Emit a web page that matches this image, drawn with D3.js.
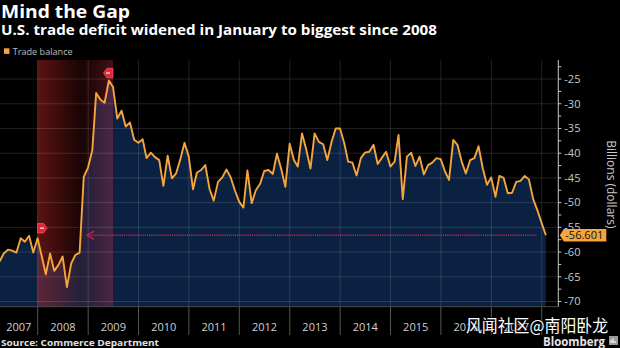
<!DOCTYPE html>
<html>
<head>
<meta charset="utf-8">
<script src="https://cdn.jsdelivr.net/npm/d3@7"></script>
<style>
html,body{margin:0;padding:0;background:#000;}
svg{display:block;}
</style>
</head>
<body>
<svg id="chart" width="620" height="348"></svg>
<script>
// ---------------- DATA ----------------
const firstMonth = "2007-03";          // first monthly observation
const tradeBalance = [
  // 2007 (Mar-Dec)
  -61.9, -60.3, -59.5, -59.7, -60.1, -57.2, -57.9, -56.7, -60.1, -57.2,
  // 2008
  -60.9, -64.5, -60.3, -63.8, -62.6, -60.9, -67.1, -62.3, -60.6, -60.1, -44.8, -42.9,
  // 2009
  -39.4, -27.8, -29.2, -29.8, -25.3, -26.6, -33.0, -31.4, -34.6, -33.8, -37.3, -37.9,
  // 2010
  -37.2, -41.0, -39.9, -40.8, -41.4, -46.6, -40.5, -45.1, -44.1, -41.2, -37.9, -40.7,
  // 2011
  -47.3, -43.9, -43.4, -42.4, -47.3, -49.6, -45.8, -44.9, -43.3, -44.9, -47.5, -49.8,
  // 2012
  -51.0, -43.5, -50.1, -47.5, -46.2, -43.6, -43.4, -44.2, -40.1, -43.2, -46.8, -38.1,
  // 2013
  -41.4, -42.7, -36.0, -39.2, -43.1, -36.0, -37.7, -38.2, -41.4, -37.7, -35.0, -35.0,
  // 2014
  -38.0, -41.7, -41.9, -44.5, -41.0, -39.9, -39.7, -38.3, -42.2, -40.9, -39.7, -42.7,
  // 2015
  -41.7, -36.3, -49.3, -40.7, -39.9, -42.6, -40.7, -44.3, -42.4, -41.9, -41.0, -41.2,
  // 2016
  -43.7, -45.4, -37.3, -38.3, -41.7, -44.1, -41.4, -41.0, -38.6, -43.1, -46.4, -44.9,
  // 2017
  -48.8, -44.6, -45.0, -48.1, -48.0, -45.8, -45.6, -44.6, -45.3, -49.3, -51.5, -54.1,
  // 2018
  -56.601
];
const lastLabel = "-56.601";
const recession = ["2007-12", "2009-06"];     // shaded band (end of month)
const yearLabels = ["2007","2008","2009","2010","2011","2012","2013","2014","2015","2016","2017"];
const yTicks = [-25,-30,-35,-40,-45,-50,-55,-60,-65,-70];
const yMinorTicks = [-22.5,-25,-27.5,-30,-32.5,-35,-37.5,-40,-42.5,-45,-47.5,-50,-52.5,-55,-57.5,-60,-62.5,-65,-67.5,-70];
const xDomain = ["2007-04-03", "2018-05-01"];
const yDomain = [-21.15, -71.05];
const legendLabel = "Trade balance";
const title = "Mind the Gap";
const subtitle = "U.S. trade deficit widened in January to biggest since 2008";
const source = "Source: Commerce Department";
const axisTitle = "Billions (dollars)";
const watermark = "风闻社区@南阳卧龙";

// ---------------- HELPERS ----------------
const parseYM = s => { const [y,m] = s.split("-").map(Number); return new Date(y, m, 0); }; // end of month
const start = parseYM(firstMonth);
const data = tradeBalance.map((v,i) => ({ date: new Date(start.getFullYear(), start.getMonth() + i + 1, 0), value: v }));

const W = 620, H = 348;
const plot = { left: 0, right: 558.3, top: 60, bottom: 306.7 };

const svg = d3.select("#chart");
const x = d3.scaleTime().domain(xDomain.map(s => new Date(s + "T00:00:00"))).range([plot.left, plot.right]);
const y = d3.scaleLinear().domain(yDomain).range([plot.top, plot.bottom]);

const FONT = "'Open Sans', 'Noto Sans', sans-serif";
const ORANGE = "#f5a53c";

svg.append("rect").attr("width", W).attr("height", H).attr("fill", "#000");

// ---------------- TITLES ----------------
svg.append("text").attr("x", 1).attr("y", 18).text(title)
  .attr("font-family", FONT).attr("font-weight", 700).attr("font-size", 17.5)
  .attr("fill", "#fff").attr("textLength", 129).attr("lengthAdjust", "spacingAndGlyphs");
svg.append("text").attr("x", 1).attr("y", 34.5).text(subtitle)
  .attr("font-family", FONT).attr("font-weight", 700).attr("font-size", 13.5)
  .attr("fill", "#fff").attr("textLength", 436).attr("lengthAdjust", "spacingAndGlyphs");

// legend
svg.append("rect").attr("x", 4).attr("y", 48.3).attr("width", 5.4).attr("height", 5.6).attr("fill", ORANGE);
svg.append("text").attr("x", 12.7).attr("y", 54.5).text(legendLabel)
  .attr("font-family", FONT).attr("font-size", 8.6).attr("fill", "#bdbdbd")
  .attr("textLength", 60).attr("lengthAdjust", "spacingAndGlyphs");

// ---------------- PLOT ----------------
const defs = svg.append("defs");
defs.append("clipPath").attr("id", "clip").append("rect")
  .attr("x", plot.left).attr("y", plot.top).attr("width", plot.right - plot.left).attr("height", plot.bottom - plot.top);

const grad = defs.append("linearGradient").attr("id", "recGrad").attr("x1", 0).attr("x2", 1).attr("y1", 0).attr("y2", 0);
grad.append("stop").attr("offset", 0).attr("stop-color", "#c42a2a").attr("stop-opacity", 0.46);
grad.append("stop").attr("offset", 0.3).attr("stop-color", "#b82424").attr("stop-opacity", 0.32);
grad.append("stop").attr("offset", 0.58).attr("stop-color", "#a01c1c").attr("stop-opacity", 0.16);
grad.append("stop").attr("offset", 1).attr("stop-color", "#c8304a").attr("stop-opacity", 0.34);

const g = svg.append("g").attr("clip-path", "url(#clip)");

// area
const area = d3.area().x(d => x(d.date)).y0(plot.bottom).y1(d => y(d.value));
g.append("path").datum(data).attr("d", area).attr("fill", "#0b2142");

// recession band
const r0 = parseYM(recession[0]), r1 = parseYM(recession[1]);
g.append("rect").attr("x", x(r0)).attr("y", plot.top).attr("width", x(r1) - x(r0)).attr("height", plot.bottom - plot.top)
  .attr("fill", "url(#recGrad)");

// grid
const GRID = "rgba(255,255,255,0.13)";
g.selectAll(".hgrid").data(yTicks).join("line")
  .attr("x1", plot.left).attr("x2", plot.right).attr("y1", d => y(d)).attr("y2", d => y(d))
  .attr("stroke", GRID).attr("stroke-width", 1);
const yearStarts = d3.timeYear.range(new Date(2008,0,1), new Date(2018,0,2));
g.selectAll(".vgrid").data(yearStarts).join("line")
  .attr("x1", d => x(d)).attr("x2", d => x(d)).attr("y1", plot.top).attr("y2", plot.bottom)
  .attr("stroke", GRID).attr("stroke-width", 1);

// line
const line = d3.line().x(d => x(d.date)).y(d => y(d.value));
g.append("path").datum(data).attr("d", line).attr("fill", "none")
  .attr("stroke", ORANGE).attr("stroke-width", 1.9).attr("stroke-linejoin", "round");

// arrow back to the last time at this level
const last = data[data.length - 1];
let crossX = null;
for (let i = data.length - 2; i > 0; i--) {
  const a = data[i - 1], b = data[i];
  if ((a.value - last.value) * (b.value - last.value) < 0) {
    const t = (last.value - a.value) / (b.value - a.value);
    crossX = x(a.date) + t * (x(b.date) - x(a.date));
    break;
  }
}
const ay = y(last.value);
const ARROW = "#c9204f";
const tipX = crossX + 6.5;
svg.append("line").attr("x1", tipX + 1).attr("x2", x(last.date) - 8.5).attr("y1", ay).attr("y2", ay)
  .attr("stroke", ARROW).attr("stroke-width", 1.3).attr("stroke-dasharray", "1.2,0.9");
svg.append("path").attr("d", `M${tipX + 7},${ay - 4.2} L${tipX},${ay} L${tipX + 7},${ay + 4.2}`)
  .attr("fill", "none").attr("stroke", ARROW).attr("stroke-width", 1.4);

// recession badges
const startPt = data.find(d => +d.date === +r0);
const bandPts = data.filter(d => d.date >= r0 && d.date <= r1);
const peak = bandPts.reduce((m, d) => d.value > m.value ? d : m, bandPts[0]);
function badge(cx, cy, dir) {
  // dir = 1 : flat on left, point on right ; dir = -1 : flat on right, point on left
  const w = 9.5, h = 9.5;
  const x0 = dir > 0 ? cx : cx - w;
  const pts = dir > 0
    ? [[x0, cy - h/2], [x0 + w - 3.5, cy - h/2], [x0 + w, cy], [x0 + w - 3.5, cy + h/2], [x0, cy + h/2]]
    : [[x0 + w, cy - h/2], [x0 + 3.5, cy - h/2], [x0, cy], [x0 + 3.5, cy + h/2], [x0 + w, cy + h/2]];
  svg.append("path").attr("d", "M" + pts.map(p => p.join(",")).join("L") + "Z")
    .attr("fill", "#e0283a").attr("stroke", "#ff4a5a").attr("stroke-width", 0.8).attr("stroke-linejoin", "round");
  svg.append("line").attr("x1", x0 + 2.5).attr("x2", x0 + w - 3).attr("y1", cy).attr("y2", cy)
    .attr("stroke", "#ffd0d0").attr("stroke-width", 1.4);
}
badge(x(r0), y(startPt.value) - 10, 1);
badge(x(r1), y(peak.value) - 7.5, -1);

// ---------------- RIGHT AXIS ----------------
const AX = "#c8c8c8";
svg.append("line").attr("x1", plot.right).attr("x2", plot.right).attr("y1", plot.top).attr("y2", plot.bottom)
  .attr("stroke", AX).attr("stroke-width", 1);
svg.selectAll(".minor").data(yMinorTicks).join("line")
  .attr("x1", plot.right).attr("x2", plot.right + 3).attr("y1", d => y(d)).attr("y2", d => y(d))
  .attr("stroke", AX).attr("stroke-width", 1);
svg.selectAll(".ylab").data(yTicks).join("text")
  .attr("x", plot.right + 6).attr("y", d => y(d)).attr("dy", "0.35em")
  .text(d => d3.format("d")(d).replace("−", "-"))
  .attr("font-family", FONT).attr("font-size", 11).attr("fill", AX);

svg.append("text").attr("transform", `translate(611.5, ${(plot.top + plot.bottom) / 2 + 1}) rotate(90)`)
  .attr("text-anchor", "middle").attr("dy", "0.35em").text(axisTitle)
  .attr("font-family", FONT).attr("font-size", 12).attr("fill", AX);

// last value tag
const tx = plot.right + 1.5, th = 12.6;
svg.append("path").attr("d",
  `M${tx},${ay} L${tx + 4},${ay - th/2} L${tx + 46.5},${ay - th/2} L${tx + 46.5},${ay + th/2} L${tx + 4},${ay + th/2} Z`)
  .attr("fill", ORANGE);
svg.append("text").attr("x", tx + 5.5).attr("y", ay).attr("dy", "0.36em").text(lastLabel)
  .attr("font-family", FONT).attr("font-size", 11).attr("fill", "#111")
  .attr("textLength", 38).attr("lengthAdjust", "spacingAndGlyphs");

// ---------------- X AXIS BAND ----------------
svg.append("line").attr("x1", plot.left).attr("x2", plot.right).attr("y1", plot.bottom).attr("y2", plot.bottom)
  .attr("stroke", "#4a4a4a").attr("stroke-width", 1);
svg.selectAll(".xdiv").data(yearStarts).join("line")
  .attr("x1", d => x(d)).attr("x2", d => x(d)).attr("y1", plot.bottom).attr("y2", 335)
  .attr("stroke", "#555").attr("stroke-width", 1);
svg.selectAll(".xlab").data(yearLabels).join("text")
  .attr("x", d => {
    const a = Math.max(x(new Date(+d, 0, 1)), plot.left);
    const b = Math.min(x(new Date(+d + 1, 0, 1)), plot.right);
    return (a + b) / 2;
  })
  .attr("y", 330.5).attr("text-anchor", "middle").text(d => d)
  .attr("font-family", FONT).attr("font-size", 11).attr("fill", "#cfcfcf");

// ---------------- FOOTER ----------------
svg.append("text").attr("x", 1).attr("y", 346).text(source)
  .attr("font-family", FONT).attr("font-weight", 700).attr("font-size", 9.5).attr("fill", "#e0e0e0")
  .attr("textLength", 158).attr("lengthAdjust", "spacingAndGlyphs");

svg.append("text").attr("x", 605).attr("y", 345.5).attr("text-anchor", "end").text("Bloomberg")
  .attr("font-family", FONT).attr("font-weight", 700).attr("font-size", 12).attr("fill", "#e6e6e6")
  .attr("textLength", 62).attr("lengthAdjust", "spacingAndGlyphs");
svg.append("rect").attr("x", 609).attr("y", 336).attr("width", 9).attr("height", 9).attr("fill", "#9a9a9a");
svg.append("path").attr("d", "M611,343 L611,340 M613,343 L613,338.5 M615,343 L615,341").attr("stroke", "#fff").attr("stroke-width", 1.2);

// watermark
svg.append("text").attr("x", 466).attr("y", 332).text(watermark)
  .attr("font-family", "'Noto Sans CJK SC', sans-serif").attr("font-size", 16.5)
  .attr("fill", "#fff").attr("stroke", "rgba(0,0,0,0.55)").attr("stroke-width", 2.2).attr("paint-order", "stroke")
  .attr("textLength", 142).attr("lengthAdjust", "spacingAndGlyphs");
</script>
</body>
</html>
